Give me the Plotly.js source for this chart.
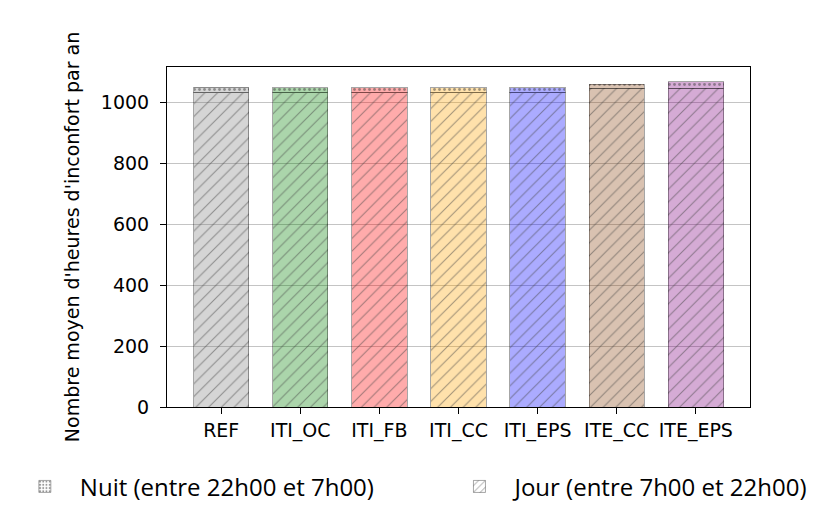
<!DOCTYPE html>
<html>
<head>
<meta charset="utf-8">
<script src="https://cdn.plot.ly/plotly-3.0.1.min.js"></script>
<style>html,body{margin:0;padding:0;background:#fff;}#chart{width:820px;height:519px;}</style>
</head>
<body>
<div id="chart"></div>
<script>
const categories = ["REF", "ITI_OC", "ITI_FB", "ITI_CC", "ITI_EPS", "ITE_CC", "ITE_EPS"];
const jourValues = [1030, 1030, 1030, 1031, 1031, 1046, 1045];
const nuitValues = [18, 17, 17, 16, 16, 13, 21];
const barColors = ["rgb(128,128,128)", "rgb(0,128,0)", "rgb(255,0,0)", "rgb(255,165,0)", "rgb(0,0,255)", "rgb(139,69,19)", "rgb(128,0,128)"];
const nuitLabel = "Nuit (entre 22h00 et 7h00)";
const jourLabel = "Jour (entre 7h00 et 22h00)";
const yTitle = "Nombre moyen d'heures d'inconfort par an";

const fadedColors = barColors.map(c => c.replace("rgb(", "rgba(").replace(")", ",0.33)"));
const edge = {color: "rgba(0,0,0,0.35)", width: 1};
const clear = "rgba(0,0,0,0)";

const traces = [
  {
    type: "bar", x: categories, y: jourValues, name: jourLabel, showlegend: false,
    width: 0.7,
    marker: {color: fadedColors, line: edge,
      pattern: {shape: "/", fgcolor: "rgba(0,0,0,0.4)", bgcolor: clear, size: 9, solidity: 0.12, fillmode: "overlay"}},
    hoverinfo: "x+y"
  },
  {
    type: "bar", x: categories, y: nuitValues, name: nuitLabel, showlegend: false,
    width: 0.7,
    marker: {color: fadedColors, line: edge,
      pattern: {shape: ".", fgcolor: "rgba(0,0,0,0.4)", bgcolor: clear, size: 5, solidity: 0.25, fillmode: "overlay"}},
    hoverinfo: "x+y"
  },
  {
    type: "bar", x: [categories[0]], y: [null], name: nuitLabel, showlegend: true, legend: "legend",
    marker: {color: "white", line: {color: "rgba(0,0,0,0.35)", width: 1},
      pattern: {shape: ".", fgcolor: "rgba(0,0,0,0.4)", bgcolor: "white", size: 4, solidity: 0.3}},
    hoverinfo: "skip"
  },
  {
    type: "bar", x: [categories[0]], y: [null], name: jourLabel, showlegend: true, legend: "legend2",
    marker: {color: "white", line: {color: "rgba(0,0,0,0.35)", width: 1},
      pattern: {shape: "/", fgcolor: "rgba(0,0,0,0.4)", bgcolor: "white", size: 6, solidity: 0.2}},
    hoverinfo: "skip"
  }
];

const legendCommon = {
  orientation: "h",
  xref: "container", yref: "container",
  xanchor: "left", y: 0.062, yanchor: "middle",
  itemwidth: 60,
  font: {family: "Open Sans, sans-serif", size: 24, color: "#000"},
  bgcolor: "rgba(0,0,0,0)"
};

const layout = {
  width: 820, height: 519,
  margin: {l: 167, r: 70, t: 67, b: 112},
  paper_bgcolor: "#fff", plot_bgcolor: "#fff",
  barmode: "stack",
  font: {family: "DejaVu Sans, sans-serif", size: 19, color: "#000"},
  xaxis: {
    type: "category", range: [-0.685, 6.685],
    showline: true, mirror: true, linecolor: "#000", linewidth: 1,
    ticks: "outside", ticklen: 6, tickcolor: "#000",
    showgrid: false, zeroline: false,
    tickfont: {family: "DejaVu Sans, sans-serif", size: 19}
  },
  yaxis: {
    range: [0, 1115], dtick: 200, tick0: 0,
    showline: true, mirror: true, linecolor: "#000", linewidth: 1,
    ticks: "outside", ticklen: 6, tickcolor: "#000",
    ticklabelstandoff: 7,
    showgrid: true, gridcolor: "#c4c4c4", gridwidth: 1, zeroline: false,
    tickfont: {family: "DejaVu Sans, sans-serif", size: 19},
    title: {text: yTitle, font: {family: "DejaVu Sans, sans-serif", size: 19}, standoff: 16}
  },
  showlegend: true,
  legend: Object.assign({}, legendCommon, {x: 0.012}),
  legend2: Object.assign({}, legendCommon, {x: 0.542})
};

Plotly.newPlot("chart", traces, layout, {displayModeBar: false, staticPlot: true});
</script>
</body>
</html>
